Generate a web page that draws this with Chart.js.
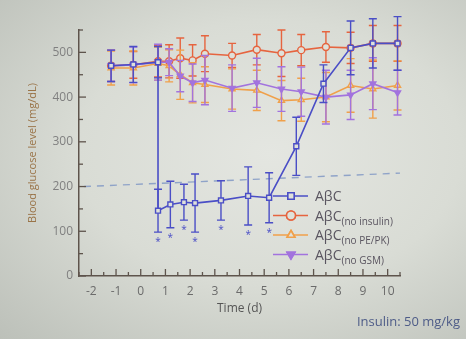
<!DOCTYPE html>
<html lang="en">
<head>
  <meta charset="UTF-8">
  <title>Blood glucose level</title>
  <script src="https://cdn.jsdelivr.net/npm/chart.js"></script>
  <style>
    html, body { margin: 0; padding: 0; }
    body {
      width: 466px; height: 339px; overflow: hidden;
      background: radial-gradient(ellipse at 58% 45%, #e4e6e1 0%, #d9dcd5 50%, #bcc0b9 100%);
      font-family: "Open Sans", Arial, sans-serif;
    }
    canvas { display: block; }
  </style>
</head>
<body>
  <canvas id="grafico" width="466" height="339"></canvas>

  <script>
    // data (days, mg/dL, +/- error)
    const daysABC = [-1.2, -0.3, 0.7, 0.7, 1.2, 1.75, 2.2, 3.25, 4.35, 5.2, 6.3, 7.4, 8.5, 9.4, 10.4];
    const glucABC = [470, 473, 478, 146, 160, 165, 163, 169, 179, 175, 290, 430, 510, 520, 520];
    const errABC  = [35, 40, 35, 48, 52, 40, 65, 44, 65, 56, 65, 42, 60, 55, 60];
    const starABC = [false, false, false, true, true, true, true, true, true, true, false, false, false, false, false];

    const daysCtrl = [-1.2, -0.3, 0.7, 1.15, 1.6, 2.1, 2.6, 3.7, 4.7, 5.7, 6.5, 7.5, 8.5, 9.4, 10.4];
    const glucNoInsulin = [470, 472, 480, 480, 487, 482, 497, 493, 506, 498, 505, 512, 510, 520, 520];
    const errNoInsulin  = [35, 30, 35, 37, 45, 35, 40, 27, 34, 52, 35, 34, 35, 40, 40];
    const glucNoPEPK = [465, 465, 475, 470, 450, 432, 428, 418, 415, 392, 394, 400, 426, 418, 426];
    const errNoPEPK  = [38, 38, 37, 36, 55, 45, 40, 45, 45, 45, 48, 55, 60, 65, 55];
    const glucNoGSM = [470, 472, 478, 478, 447, 432, 438, 420, 432, 418, 412, 400, 405, 430, 410];
    const errNoGSM  = [35, 40, 40, 30, 35, 42, 55, 52, 55, 50, 55, 60, 55, 58, 50];

    const threshDays = [-2.3, 10.5];
    const threshGluc = [200, 230];

    const legendSubs = ['', '(no insulin)', '(no PE/PK)', '(no GSM)'];

    const bg = '#dfe1da';
    const pts = (xs, ys) => xs.map((x, i) => ({ x: x, y: ys[i] }));

    const errorBars = {
      id: 'errorBars',
      beforeDatasetDraw(chart, args) {
        const ds = chart.data.datasets[args.index];
        if (!ds.errors) return;
        const ctx = chart.ctx, x = chart.scales.x, y = chart.scales.y;
        ctx.save();
        ctx.strokeStyle = ds.borderColor;
        ctx.lineWidth = 1.4;
        ds.data.forEach((p, i) => {
          const px = x.getPixelForValue(p.x);
          const top = y.getPixelForValue(p.y + ds.errors[i]);
          const bot = y.getPixelForValue(p.y - ds.errors[i]);
          ctx.beginPath();
          ctx.moveTo(px, top); ctx.lineTo(px, bot);
          ctx.moveTo(px - 4, top); ctx.lineTo(px + 4, top);
          ctx.moveTo(px - 4, bot); ctx.lineTo(px + 4, bot);
          ctx.stroke();
          if (ds.stars && ds.stars[i]) {
            ctx.fillStyle = ds.borderColor;
            ctx.font = '10px "Open Sans"';
            ctx.textAlign = 'center';
            ctx.textBaseline = 'middle';
            ctx.fillText('*', px, bot + 10);
          }
        });
        ctx.restore();
      }
    };

    const extras = {
      id: 'extras',
      afterDraw(chart) {
        const ctx = chart.ctx, x = chart.scales.x, y = chart.scales.y;
        const left = chart.chartArea.left, bottom = chart.chartArea.bottom;
        ctx.save();
        // inward ticks
        ctx.strokeStyle = '#5e544c';
        ctx.lineWidth = 1.3;
        x.ticks.forEach(t => {
          const px = x.getPixelForValue(t.value);
          const len = Number.isInteger(t.value) ? 7 : 4;
          ctx.beginPath(); ctx.moveTo(px, bottom); ctx.lineTo(px, bottom - len); ctx.stroke();
        });
        y.ticks.forEach(t => {
          const py = y.getPixelForValue(t.value);
          const len = t.value % 100 === 0 ? 7 : 4;
          ctx.beginPath(); ctx.moveTo(left, py); ctx.lineTo(left + len, py); ctx.stroke();
        });

        // legend
        chart.data.datasets.forEach((ds, i) => {
          if (!ds.inLegend) return;
          const ly = 196 + i * 19.5;
          ctx.strokeStyle = ds.borderColor;
          ctx.lineWidth = 1.6;
          ctx.beginPath(); ctx.moveTo(273, ly); ctx.lineTo(308, ly); ctx.stroke();
          Chart.helpers.drawPoint(ctx, {
            pointStyle: ds.pointStyle, rotation: ds.pointRotation || 0,
            radius: 4.5, borderWidth: 1.4
          }, 291, ly);
          ctx.fillStyle = ds.pointBackgroundColor;
          ctx.strokeStyle = ds.borderColor;
          ctx.fill(); ctx.stroke();
          ctx.fillStyle = '#5a5560';
          ctx.textAlign = 'left';
          ctx.textBaseline = 'alphabetic';
          ctx.font = '14px "Open Sans"';
          ctx.fillText('A\u03B2C', 315, ly + 5);
          const w = ctx.measureText('A\u03B2C').width;
          ctx.font = '10px "Open Sans"';
          ctx.fillText(legendSubs[i], 315 + w, ly + 9);
        });

        ctx.fillStyle = '#4e5c88';
        ctx.font = '13px "Open Sans"';
        ctx.textAlign = 'right';
        ctx.fillText('Insulin: 50 mg/kg', 460, 326);
        ctx.restore();
      }
    };

    const ctx = document.getElementById('grafico').getContext('2d');
    new Chart(ctx, {
      type: 'line',
      data: {
        datasets: [
          {
            label: 'A\u03B2C', data: pts(daysABC, glucABC), errors: errABC, stars: starABC,
            borderColor: '#4a4ec6', pointBackgroundColor: bg, pointStyle: 'rect',
            inLegend: true, order: 1
          },
          {
            label: 'A\u03B2C(no insulin)', data: pts(daysCtrl, glucNoInsulin), errors: errNoInsulin,
            borderColor: '#e6643f', pointBackgroundColor: bg, pointStyle: 'circle',
            inLegend: true, order: 4
          },
          {
            label: 'A\u03B2C(no PE/PK)', data: pts(daysCtrl, glucNoPEPK), errors: errNoPEPK,
            borderColor: '#f0a04a', pointBackgroundColor: bg, pointStyle: 'triangle',
            inLegend: true, order: 3
          },
          {
            label: 'A\u03B2C(no GSM)', data: pts(daysCtrl, glucNoGSM), errors: errNoGSM,
            borderColor: '#a273de', pointBackgroundColor: '#a273de', pointStyle: 'triangle', pointRotation: 180,
            inLegend: true, order: 2
          },
          {
            label: 'threshold', data: pts(threshDays, threshGluc),
            borderColor: '#8fa3c8', borderDash: [7, 6], borderWidth: 1.4,
            pointRadius: 0, order: 5
          }
        ]
      },
      options: {
        responsive: false,
        animation: false,
        clip: false,
        layout: { padding: { left: 0, top: 30, right: 66, bottom: 0 } },
        elements: {
          line: { borderWidth: 1.6, tension: 0 },
          point: { radius: 3.5, borderWidth: 1.4 }
        },
        plugins: { legend: { display: false }, tooltip: { enabled: false } },
        scales: {
          x: {
            type: 'linear', min: -2.5, max: 10.5,
            afterFit: s => { s.height = 63; },
            grid: { display: false, drawTicks: false },
            border: { color: '#5e544c', width: 1.5 },
            ticks: {
              stepSize: 0.5, autoSkip: false, maxRotation: 0, padding: 8,
              color: '#6b6b6b', font: { family: 'Open Sans', size: 12 },
              callback: v => Number.isInteger(v) ? v : ''
            },
            title: {
              display: true, text: 'Time (d)', color: '#555',
              font: { family: 'Open Sans', size: 12 }, padding: { top: 0, bottom: 23 }
            }
          },
          y: {
            min: 0, max: 550,
            afterFit: s => { s.width = 79; },
            grid: { display: false, drawTicks: false },
            border: { color: '#5e544c', width: 1.5 },
            ticks: {
              stepSize: 50, autoSkip: false, padding: 6,
              color: '#808080', font: { family: 'Open Sans', size: 12 },
              callback: v => v % 100 === 0 ? v : ''
            },
            title: {
              display: true, text: 'Blood glucose level (mg/dL)', color: '#9a7448',
              font: { family: 'Open Sans', size: 11 }, padding: { top: 26, bottom: 0 }
            }
          }
        }
      },
      plugins: [errorBars, extras]
    });
  </script>
</body>
</html>
